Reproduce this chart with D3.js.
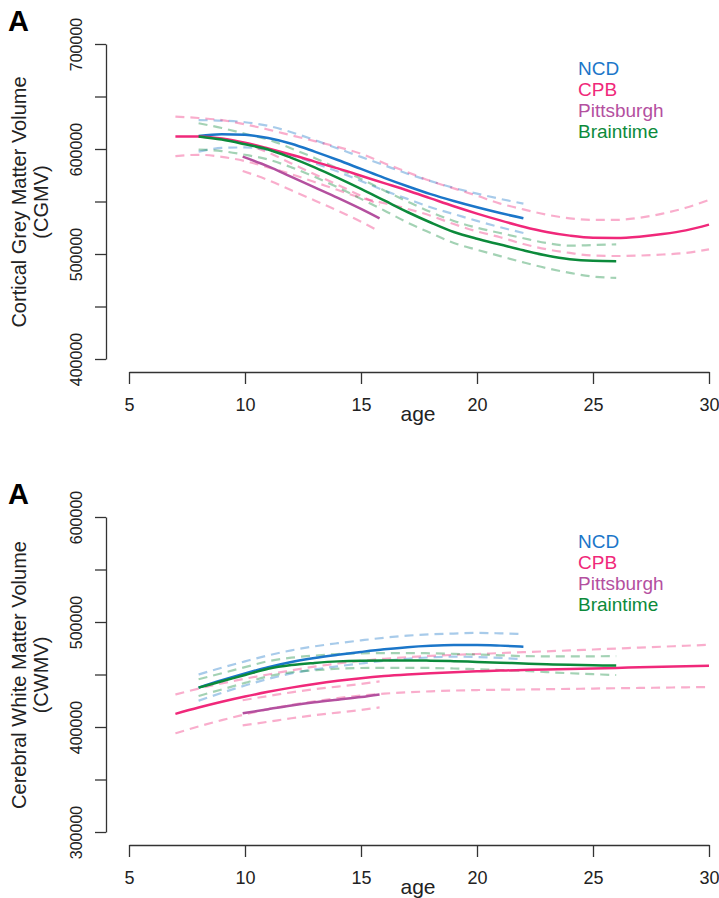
<!DOCTYPE html>
<html>
<head>
<meta charset="utf-8">
<script src="https://cdn.jsdelivr.net/npm/d3@7/dist/d3.min.js"></script>
<style>
body { margin: 0; background: #fff; }
svg { display: block; font-family: "Liberation Sans", Arial, sans-serif; }
</style>
</head>
<body>
<svg id="chart" width="719" height="898"></svg>
<script>
// cohorts and colours
const cohorts = ["NCD", "CPB", "Pittsburgh", "Braintime"];
const colors = { NCD: "#1b76c9", CPB: "#f0287a", Pittsburgh: "#b4509f", Braintime: "#0c8a3b" };

const xTicks = [5, 10, 15, 20, 25, 30];

// ---- panel 1: cortical grey matter volume ----
const gmTicks = [400000, 450000, 500000, 550000, 600000, 650000, 700000];
const gmLabels = ["400000", "", "500000", "", "600000", "", "700000"];

const gmNcdAge = [8, 9, 10, 11, 12, 13, 14, 15, 16, 17, 18, 19, 20, 21, 22];
const gmNcdFit = [612500, 614000, 613500, 610500, 605000, 597500, 589500, 581000, 572500, 564500, 557000, 550500, 544500, 539000, 534000];
const gmNcdHi  = [627500, 627000, 625500, 622000, 616000, 608500, 600500, 592500, 584500, 576500, 569500, 563000, 557500, 552500, 548000];
const gmNcdLo  = [597500, 601000, 601500, 599000, 594000, 586500, 578500, 569500, 560500, 552500, 544500, 538000, 531500, 525500, 520000];

const gmCpbAge = [7, 8, 9, 10, 11, 12, 13, 14, 15, 16, 17, 18, 19, 20, 21, 22, 23, 24, 25, 26, 27, 28, 29, 30];
const gmCpbFit = [612000, 612000, 610000, 606000, 600500, 594500, 588000, 581500, 574500, 567500, 560500, 553000, 545500, 538500, 532000, 526000, 521000, 517500, 515500, 515300, 516500, 519000, 522500, 528000];
const gmCpbHi  = [630800, 629500, 627500, 623500, 618500, 613000, 607500, 602000, 595500, 586500, 578000, 569500, 562500, 555500, 548000, 542500, 537500, 534000, 532500, 532500, 534500, 538500, 544000, 551500];
const gmCpbLo  = [593200, 594500, 592500, 588500, 582500, 576000, 568500, 561000, 553500, 548500, 543000, 536500, 528500, 521500, 516000, 509500, 504500, 501000, 498500, 498100, 498500, 499500, 501000, 504500];

const gmPitAge = [9.9, 11, 12, 13, 14, 15, 15.8];
const gmPitFit = [592700, 583500, 573500, 563500, 553500, 543000, 534000];
const gmPitHi  = [606000, 596600, 586300, 576000, 565800, 555300, 546700];
const gmPitLo  = [579000, 570400, 560700, 551000, 541200, 530700, 521300];

const gmBtAge = [8, 9, 10, 11, 12, 13, 14, 15, 16, 17, 18, 19, 20, 21, 22, 23, 24, 25, 26];
const gmBtFit = [612000, 609000, 604500, 599500, 591500, 582500, 572500, 562000, 551000, 540000, 530000, 521000, 514500, 509000, 503500, 498500, 495000, 493500, 493200];
const gmBtHi  = [624500, 620000, 614500, 609000, 600500, 591500, 581500, 571500, 560500, 550000, 540000, 531500, 525000, 520000, 515000, 510500, 508000, 508500, 509200];
const gmBtLo  = [599500, 598000, 594500, 590000, 582500, 573500, 563500, 552500, 541500, 530000, 520000, 510500, 504000, 498000, 492000, 486500, 482000, 478500, 477200];

// ---- panel 2: cerebral white matter volume ----
const wmTicks = [300000, 350000, 400000, 450000, 500000, 550000, 600000];
const wmLabels = ["300000", "", "400000", "", "500000", "", "600000"];

const wmNcdAge = [8, 9, 10, 11, 12, 13, 14, 15, 16, 17, 18, 19, 20, 21, 22];
const wmNcdFit = [437500, 444500, 451000, 457000, 462000, 465800, 468800, 471500, 474000, 476000, 477300, 478000, 478100, 477500, 476500];
const wmNcdHi  = [450000, 456500, 462500, 468200, 473000, 476800, 479800, 482500, 485000, 487000, 488300, 489000, 489600, 489200, 488500];
const wmNcdLo  = [425000, 432500, 439500, 445800, 451000, 454800, 457800, 460500, 463000, 465000, 466300, 467000, 466600, 465800, 464500];

const wmCpbAge = [7, 8, 9, 10, 11, 12, 13, 14, 15, 16, 17, 18, 19, 20, 21, 22, 23, 24, 25, 26, 27, 28, 29, 30];
const wmCpbFit = [412500, 418500, 424000, 429000, 433500, 437500, 441000, 444000, 446500, 448500, 450000, 451200, 452200, 453000, 453700, 454300, 454800, 455300, 455800, 456300, 456800, 457300, 457800, 458300];
const wmCpbHi  = [431000, 436500, 441500, 446000, 450000, 454000, 457500, 460500, 463000, 465000, 466500, 467700, 468700, 469500, 470400, 471300, 472100, 472900, 473800, 474700, 475600, 476500, 477400, 478300];
const wmCpbLo  = [394000, 400500, 406500, 412000, 417000, 421000, 424500, 427500, 430000, 431800, 433000, 434000, 434700, 435200, 435500, 435700, 436000, 436300, 436600, 436900, 437200, 437500, 437800, 438100];

const wmPitAge = [9.9, 11, 12, 13, 14, 15, 15.8];
const wmPitFit = [413000, 417000, 420500, 423500, 426000, 428500, 431000];
const wmPitHi  = [425500, 429500, 433000, 436000, 438500, 441000, 443500];
const wmPitLo  = [401500, 405000, 408300, 411200, 413700, 416200, 418700];

const wmBtAge = [8, 9, 10, 11, 12, 13, 14, 15, 16, 17, 18, 19, 20, 21, 22, 23, 24, 25, 26];
const wmBtFit = [437500, 443500, 449500, 455500, 459000, 461000, 462500, 463200, 463400, 463400, 463200, 462700, 462000, 461300, 460500, 459800, 459200, 458800, 458500];
const wmBtHi  = [445500, 451200, 457000, 462700, 466000, 468000, 469500, 470200, 470400, 470400, 470200, 469700, 469000, 468300, 467500, 467300, 467200, 467300, 467500];
const wmBtLo  = [429500, 435800, 442000, 448300, 452000, 454000, 455500, 456200, 456400, 456400, 456200, 455700, 455000, 454300, 453500, 452300, 451200, 450300, 449500];

const svg = d3.select("#chart");
const x = d3.scaleLinear().domain([5, 30]).range([129, 709]);

function series(age, fit, hi, lo) {
  return {
    fit: age.map((a, i) => [a, fit[i]]),
    hi: age.map((a, i) => [a, hi[i]]),
    lo: age.map((a, i) => [a, lo[i]])
  };
}

function drawPanel(top, ticks, labels, ylab1, ylab2, data) {
  const g = svg.append("g").attr("transform", `translate(0,${top})`);
  const y = d3.scaleLinear().domain([ticks[0], ticks[ticks.length - 1]]).range([359, 44]);
  const line = d3.line().x(d => x(d[0])).y(d => y(d[1])).curve(d3.curveMonotoneX);

  // confidence bands first
  cohorts.forEach(c => {
    const s = data[c];
    [s.hi, s.lo].forEach(band => {
      g.append("path").attr("d", line(band))
        .attr("fill", "none")
        .attr("stroke", c === "Pittsburgh" ? colors.CPB : colors[c])
        .attr("stroke-opacity", 0.38)
        .attr("stroke-width", 2.2)
        .attr("stroke-dasharray", "9,6");
    });
  });
  cohorts.forEach(c => {
    g.append("path").attr("d", line(data[c].fit))
      .attr("fill", "none")
      .attr("stroke", colors[c])
      .attr("stroke-width", 2.5);
  });

  // y axis
  const ya = g.append("g").attr("transform", "translate(106,0)")
    .call(d3.axisLeft(y).tickValues(ticks).tickFormat((d, i) => labels[i]).tickSize(11).tickSizeOuter(0));
  ya.selectAll("text")
    .attr("x", 0).attr("y", -24).attr("dy", null)
    .attr("transform", "rotate(-90)")
    .attr("text-anchor", "middle")
    .attr("font-size", 16).attr("fill", "#222");

  // x axis
  const xa = g.append("g").attr("transform", "translate(0,372)")
    .call(d3.axisBottom(x).tickValues(xTicks).tickSize(12).tickSizeOuter(0));
  xa.selectAll("text").attr("y", 39).attr("dy", null).attr("font-size", 18).attr("fill", "#222");
  [ya, xa].forEach(a => {
    a.select(".domain").attr("stroke", "#333").attr("stroke-width", 1.3);
    a.selectAll(".tick line").attr("stroke", "#333").attr("stroke-width", 1.3);
  });

  g.append("text").attr("x", 418).attr("y", 421).attr("text-anchor", "middle")
    .attr("font-size", 21).attr("fill", "#222").text("age");

  g.append("text").attr("transform", "translate(26,202) rotate(-90)")
    .attr("text-anchor", "middle").attr("font-size", 20).attr("fill", "#222").text(ylab1);
  g.append("text").attr("transform", "translate(48,202) rotate(-90)")
    .attr("text-anchor", "middle").attr("font-size", 20).attr("fill", "#222").text(ylab2);

  g.append("text").attr("x", 8).attr("y", 31)
    .attr("font-size", 29).attr("font-weight", "bold").attr("fill", "#000").text("A");

  // legend
  g.selectAll(".leg").data(cohorts).enter().append("text")
    .attr("x", 578).attr("y", (d, i) => 75 + i * 21)
    .attr("font-size", 19).attr("fill", d => colors[d]).text(d => d);
}

drawPanel(0, gmTicks, gmLabels, "Cortical Grey Matter Volume", "(CGMV)", {
  NCD: series(gmNcdAge, gmNcdFit, gmNcdHi, gmNcdLo),
  CPB: series(gmCpbAge, gmCpbFit, gmCpbHi, gmCpbLo),
  Pittsburgh: series(gmPitAge, gmPitFit, gmPitHi, gmPitLo),
  Braintime: series(gmBtAge, gmBtFit, gmBtHi, gmBtLo)
});

drawPanel(473, wmTicks, wmLabels, "Cerebral White Matter Volume", "(CWMV)", {
  NCD: series(wmNcdAge, wmNcdFit, wmNcdHi, wmNcdLo),
  CPB: series(wmCpbAge, wmCpbFit, wmCpbHi, wmCpbLo),
  Pittsburgh: series(wmPitAge, wmPitFit, wmPitHi, wmPitLo),
  Braintime: series(wmBtAge, wmBtFit, wmBtHi, wmBtLo)
});
</script>
</body>
</html>
